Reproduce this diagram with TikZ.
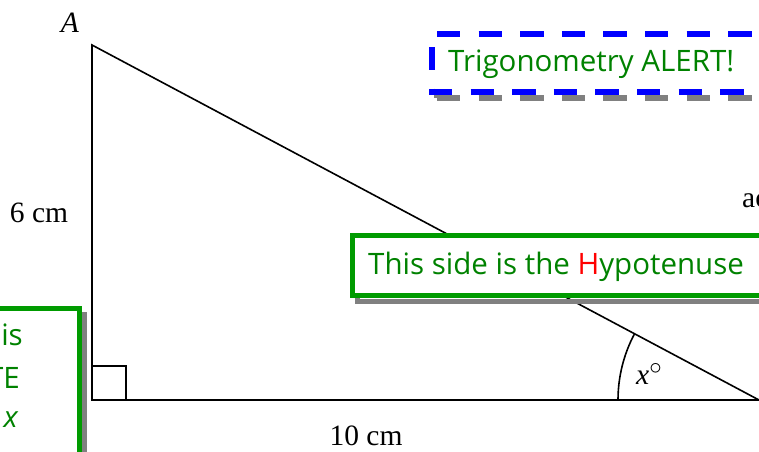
\documentclass[tikz,border=0pt]{standalone}
\usepackage{fontspec}
\setmainfont{Liberation Serif}
\newfontfamily\comicfont{Open Sans}
\definecolor{tgreen}{RGB}{0,130,0}
\definecolor{bgreen}{RGB}{0,155,0}
\definecolor{shgray}{RGB}{128,128,128}
\begin{document}
\begin{tikzpicture}[x=1pt,y=-1pt,
  serif/.style={font=\fontsize{29.5}{32}\selectfont, inner sep=0pt},
  comictxt/.style={font=\comicfont\fontsize{29.5}{34}\selectfont, text=tgreen, inner sep=0pt},
  tri/.style={draw=black, line width=1.6pt},
  shadowline/.style={draw=shgray, line width=5pt},
  greenbox/.style={draw=bgreen, fill=white, line width=5pt},
  bluedash/.style={draw=blue, line width=6pt, dash pattern=on 23.3pt off 18.3pt},
  graydash/.style={draw=shgray, line width=6pt, dash pattern=on 23.3pt off 18.3pt}]
\useasboundingbox (0,0) rectangle (759,451);
\clip (0,0) rectangle (759,451);

% triangle
\coordinate (A) at (92,45);
\coordinate (C) at (92,400);
\coordinate (B) at (759,400);
\draw[tri] (A) -- (C) -- (B) -- cycle;
\draw[line width=1.2pt] (92,366) -- (126,366) -- (126,400);
\coordinate (arcS) at (618,400);
\draw[tri] (arcS) arc[start angle=180, end angle=152, radius=141pt];

% labels
\node[serif, anchor=base] (lA) at (70,32) {\textit{A}};
\node[serif, anchor=base] (l6) at (39,222) {6 cm};
\node[serif, anchor=base] (l10) at (366,445) {10 cm};
\node[serif, anchor=base west] (lac) at (742,207) {ac};
\node[serif, anchor=base west] (lx) at (636,384) {\textit{x}$^{\textstyle\circ}$};

% hypotenuse box
\draw[shadowline] (357.5,241.5) rectangle (810,301.5);
\draw[greenbox] (352.5,235.5) rectangle (805,295.5);
\node[comictxt, anchor=base west] (hyp) at (368,274) {This side is the \textcolor{red}{H}ypotenuse};

% left box
\draw[shadowline] (-45,314.5) rectangle (84.5,510);
\draw[greenbox] (-50,308.5) rectangle (79.5,505);
\node[comictxt, anchor=base east] (l1) at (23,345) {is};
\node[comictxt, anchor=base east] (l2) at (20,388) {TE};
\node[comictxt, anchor=base east] (l3) at (18,427) {\itshape x};

% alert box
\begin{scope}[shift={(5,6)}]
\draw[graydash] (432,91.7) -- (810,91.7);
\draw[graydash, dash phase=36.6pt] (432,33.5) -- (810,33.5);
\draw[graydash, dash phase=28.1pt] (432,33.5) -- (432,91.7);
\end{scope}
\fill[white] (432,33.5) rectangle (810,91.7);
\draw[bluedash] (429,91.7) -- (810,91.7);
\draw[bluedash, dash phase=36.6pt] (432,33.5) -- (810,33.5);
\draw[bluedash, dash phase=28.1pt] (432,33.5) -- (432,91.7);
\node[comictxt, anchor=base west] (alert) at (448,71) {Trigonometry ALERT!};
\end{tikzpicture}
\end{document}
